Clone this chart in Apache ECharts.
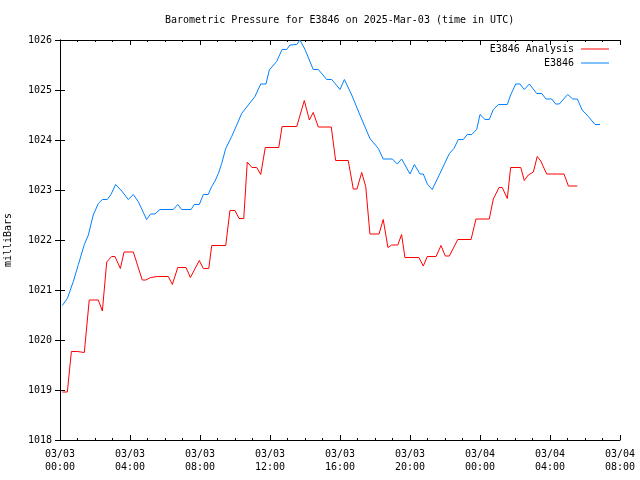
<!DOCTYPE html>
<html>
<head>
<meta charset="utf-8">
<script src="https://cdn.jsdelivr.net/npm/echarts@6/dist/echarts.min.js"></script>
<style>html,body{margin:0;padding:0;background:#fff}#c{width:640px;height:480px}</style>
</head>
<body>
<div id="c"></div>
<script>
// hours since 2025-03-03 00:00 UTC
var analysisHours = [0.13,0.42,0.65,0.99,1.39,1.67,2.19,2.42,2.67,2.95,3.14,3.45,3.66,4.19,4.70,4.90,5.18,5.56,6.19,6.42,6.73,7.20,7.45,7.96,8.19,8.50,8.67,9.47,9.71,10.00,10.23,10.50,10.70,10.97,11.24,11.47,11.73,12.50,12.69,13.53,13.96,14.25,14.47,14.76,15.50,15.75,16.47,16.76,16.97,17.24,17.47,17.71,18.23,18.47,18.74,18.95,19.30,19.52,19.71,20.51,20.76,20.99,21.49,21.77,22.02,22.25,22.73,23.49,23.77,24.53,24.76,25.09,25.27,25.56,25.75,26.33,26.53,26.76,27.05,27.27,27.47,27.81,28.80,29.05,29.56];
var analysisValues = [1018.96,1018.96,1019.77,1019.77,1019.75,1020.80,1020.80,1020.58,1021.56,1021.67,1021.67,1021.43,1021.76,1021.76,1021.20,1021.20,1021.25,1021.27,1021.27,1021.11,1021.45,1021.45,1021.25,1021.59,1021.43,1021.43,1021.89,1021.89,1022.59,1022.59,1022.43,1022.43,1023.56,1023.45,1023.45,1023.31,1023.85,1023.85,1024.27,1024.27,1024.79,1024.40,1024.55,1024.26,1024.26,1023.59,1023.59,1023.02,1023.02,1023.35,1023.07,1022.12,1022.12,1022.41,1021.85,1021.90,1021.90,1022.11,1021.65,1021.65,1021.48,1021.67,1021.67,1021.89,1021.68,1021.68,1022.01,1022.01,1022.42,1022.42,1022.82,1023.05,1023.05,1022.83,1023.45,1023.45,1023.19,1023.30,1023.36,1023.67,1023.58,1023.32,1023.32,1023.08,1023.08];

var obsHours = [0.13,0.42,0.76,1.05,1.39,1.62,1.90,2.19,2.42,2.70,2.91,3.18,3.53,3.90,4.19,4.47,4.95,5.18,5.43,5.71,6.47,6.73,6.95,7.49,7.67,7.96,8.19,8.47,8.67,8.86,9.05,9.24,9.47,9.81,10.10,10.38,10.67,11.14,11.47,11.77,11.96,12.38,12.69,12.95,13.14,13.53,13.71,14.00,14.47,14.76,15.24,15.53,16.00,16.25,16.67,17.14,17.71,18.19,18.47,18.99,19.27,19.52,20.00,20.25,20.57,20.76,20.99,21.27,21.71,22.25,22.51,22.76,23.05,23.27,23.53,23.81,24.00,24.29,24.53,24.76,25.05,25.56,25.75,26.04,26.29,26.53,26.82,27.24,27.53,27.77,28.10,28.32,28.53,29.01,29.30,29.56,29.84,30.19,30.57,30.86];
var obsValues = [1020.69,1020.83,1021.17,1021.51,1021.91,1022.10,1022.50,1022.73,1022.81,1022.81,1022.91,1023.11,1022.98,1022.81,1022.91,1022.77,1022.41,1022.52,1022.52,1022.61,1022.61,1022.71,1022.61,1022.61,1022.71,1022.71,1022.91,1022.91,1023.07,1023.18,1023.33,1023.53,1023.83,1024.07,1024.30,1024.53,1024.66,1024.87,1025.12,1025.12,1025.40,1025.57,1025.81,1025.81,1025.90,1025.91,1026.00,1025.81,1025.41,1025.41,1025.21,1025.21,1025.01,1025.21,1024.90,1024.50,1024.03,1023.83,1023.62,1023.62,1023.52,1023.62,1023.32,1023.51,1023.32,1023.32,1023.12,1023.01,1023.33,1023.73,1023.83,1024.01,1024.01,1024.11,1024.11,1024.21,1024.51,1024.41,1024.41,1024.61,1024.71,1024.71,1024.90,1025.12,1025.12,1025.01,1025.12,1024.93,1024.93,1024.82,1024.82,1024.72,1024.72,1024.91,1024.82,1024.82,1024.60,1024.47,1024.31,1024.31];

var xTickLabels = ['03/03\n00:00','03/03\n04:00','03/03\n08:00','03/03\n12:00','03/03\n16:00','03/03\n20:00','03/04\n00:00','03/04\n04:00','03/04\n08:00'];

function pairs(xs, ys){ return xs.map(function(x,i){ return [x, ys[i]]; }); }

var FONT = 'DejaVu Sans Mono';
var chart = echarts.init(document.getElementById('c'), null, {renderer:'canvas'});
var axisLineStyle = {show:true, lineStyle:{color:'#000', width:1}};
var legendCommon = {orient:'vertical', align:'right', itemWidth:28, itemHeight:1, icon:'rect', padding:0,
  itemStyle:{borderWidth:0}, textStyle:{fontFamily:FONT, fontSize:10, color:'#000', padding:[0,2,0,0]}};
chart.setOption({
  animation:false,
  backgroundColor:'#fff',
  title:{text:'Barometric Pressure for E3846 on 2025-Mar-03 (time in UTC)', left:165, top:15, padding:0,
    textStyle:{fontFamily:FONT, fontSize:10, fontWeight:'normal', color:'#000'}},
  legend:[
    Object.assign({data:['E3846 Analysis'], right:31, top:44}, legendCommon),
    Object.assign({data:['E3846'], right:31, top:58}, legendCommon)
  ],
  grid:{left:60, right:20, top:40, bottom:40, containLabel:false, outerBoundsMode:'none'},
  xAxis:[
    {type:'value', min:0, max:32, interval:4, position:'bottom',
     axisLine:axisLineStyle,
     axisTick:{show:true, inside:true, length:5, lineStyle:{color:'#000'}},
     minorTick:{show:true, splitNumber:4, length:2, lineStyle:{color:'#000'}},
     splitLine:{show:false},
     axisLabel:{fontFamily:FONT, fontSize:10, color:'#000', margin:8, lineHeight:13,
       formatter:function(v){ return xTickLabels[Math.round(v/4)]; }}},
    {type:'value', min:0, max:32, interval:4, position:'top',
     axisLine:axisLineStyle,
     axisTick:{show:true, inside:true, length:5, lineStyle:{color:'#000'}},
     minorTick:{show:true, splitNumber:4, length:2, lineStyle:{color:'#000'}},
     splitLine:{show:false}, axisLabel:{show:false}}
  ],
  yAxis:[
    {type:'value', min:1018, max:1026, interval:1, position:'left',
     name:'milliBars', nameLocation:'middle', nameRotate:90, nameGap:47,
     nameTextStyle:{fontFamily:FONT, fontSize:10, color:'#000'},
     axisLine:axisLineStyle,
     axisTick:{show:true, inside:true, length:5, lineStyle:{color:'#000'}},
     splitLine:{show:false},
     axisLabel:{fontFamily:FONT, fontSize:10, color:'#000', margin:8,
       formatter:function(v){ return String(v); }}},
    {type:'value', min:1018, max:1026, interval:1, position:'right',
     axisLine:axisLineStyle,
     axisTick:{show:true, inside:true, length:5, lineStyle:{color:'#000'}},
     splitLine:{show:false}, axisLabel:{show:false}}
  ],
  series:[
    {name:'E3846 Analysis', type:'line', xAxisIndex:0, yAxisIndex:0, data:pairs(analysisHours, analysisValues),
     showSymbol:false, symbol:'none', color:'#ff0000', lineStyle:{color:'#ff0000', width:1}},
    {name:'E3846', type:'line', xAxisIndex:0, yAxisIndex:0, data:pairs(obsHours, obsValues),
     showSymbol:false, symbol:'none', color:'#0080ff', lineStyle:{color:'#0080ff', width:1}}
  ]
});
</script>
</body>
</html>
